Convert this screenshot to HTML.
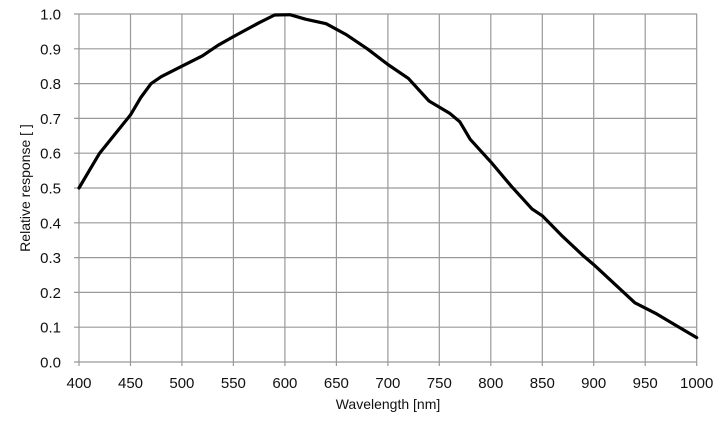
<!DOCTYPE html>
<html><head><meta charset="utf-8"><style>body{margin:0;background:#fff}svg{display:block}text{font-family:"Liberation Sans",sans-serif;fill:#111}</style></head><body>
<svg width="726" height="424" viewBox="0 0 726 424">
<g stroke="#999" stroke-width="1.2">
<line x1="79" y1="14" x2="79" y2="366"/><line x1="130.5" y1="14" x2="130.5" y2="366"/><line x1="181.9" y1="14" x2="181.9" y2="366"/><line x1="233.4" y1="14" x2="233.4" y2="366"/><line x1="284.9" y1="14" x2="284.9" y2="366"/><line x1="336.4" y1="14" x2="336.4" y2="366"/><line x1="387.9" y1="14" x2="387.9" y2="366"/><line x1="439.3" y1="14" x2="439.3" y2="366"/><line x1="490.8" y1="14" x2="490.8" y2="366"/><line x1="542.3" y1="14" x2="542.3" y2="366"/><line x1="593.7" y1="14" x2="593.7" y2="366"/><line x1="645.2" y1="14" x2="645.2" y2="366"/><line x1="696.7" y1="14" x2="696.7" y2="366"/>
<line x1="74" y1="14" x2="697" y2="14"/><line x1="74" y1="48.8" x2="697" y2="48.8"/><line x1="74" y1="83.6" x2="697" y2="83.6"/><line x1="74" y1="118.4" x2="697" y2="118.4"/><line x1="74" y1="153.2" x2="697" y2="153.2"/><line x1="74" y1="188" x2="697" y2="188"/><line x1="74" y1="222.8" x2="697" y2="222.8"/><line x1="74" y1="257.6" x2="697" y2="257.6"/><line x1="74" y1="292.4" x2="697" y2="292.4"/><line x1="74" y1="327.2" x2="697" y2="327.2"/><line x1="74" y1="362" x2="697" y2="362"/>
</g>
<polyline fill="none" stroke="#000" stroke-width="3.2" stroke-linejoin="round" stroke-linecap="round" points="79,188 89.3,170.6 99.6,153.2 115,134.1 130.5,114.9 140.8,97.5 151.1,83.6 161.4,76.6 181.9,66.2 202.5,55.8 218,45.3 233.4,36.6 259.2,22.7 274.6,15 290,14.7 305.5,19.2 326.1,23.7 346.7,34.9 367.3,48.8 387.9,64.5 408.4,78.4 429,101 449.6,113.2 459.9,121.9 470.2,139.3 490.8,161.9 511.4,186.3 532,208.9 542.3,215.8 562.9,236.7 583.4,255.9 593.7,264.6 614.3,283.7 634.9,302.8 655.5,313.3 676.1,325.5 696.7,337.6"/>
<g font-size="15" text-anchor="end">
<text x="61" y="19.5">1.0</text><text x="61" y="54.3">0.9</text><text x="61" y="89.1">0.8</text><text x="61" y="123.9">0.7</text><text x="61" y="158.7">0.6</text><text x="61" y="193.5">0.5</text><text x="61" y="228.3">0.4</text><text x="61" y="263.1">0.3</text><text x="61" y="297.9">0.2</text><text x="61" y="332.7">0.1</text><text x="61" y="367.5">0.0</text>
</g>
<g font-size="15" text-anchor="middle">
<text x="79" y="388">400</text><text x="130.5" y="388">450</text><text x="181.9" y="388">500</text><text x="233.4" y="388">550</text><text x="284.9" y="388">600</text><text x="336.4" y="388">650</text><text x="387.9" y="388">700</text><text x="439.3" y="388">750</text><text x="490.8" y="388">800</text><text x="542.3" y="388">850</text><text x="593.7" y="388">900</text><text x="645.2" y="388">950</text><text x="696.7" y="388">1000</text>
<text x="388" y="409" font-size="14">Wavelength [nm]</text>
<text transform="translate(30,188) rotate(-90)" font-size="14">Relative response [ ]</text>
</g>
</svg>
</body></html>
